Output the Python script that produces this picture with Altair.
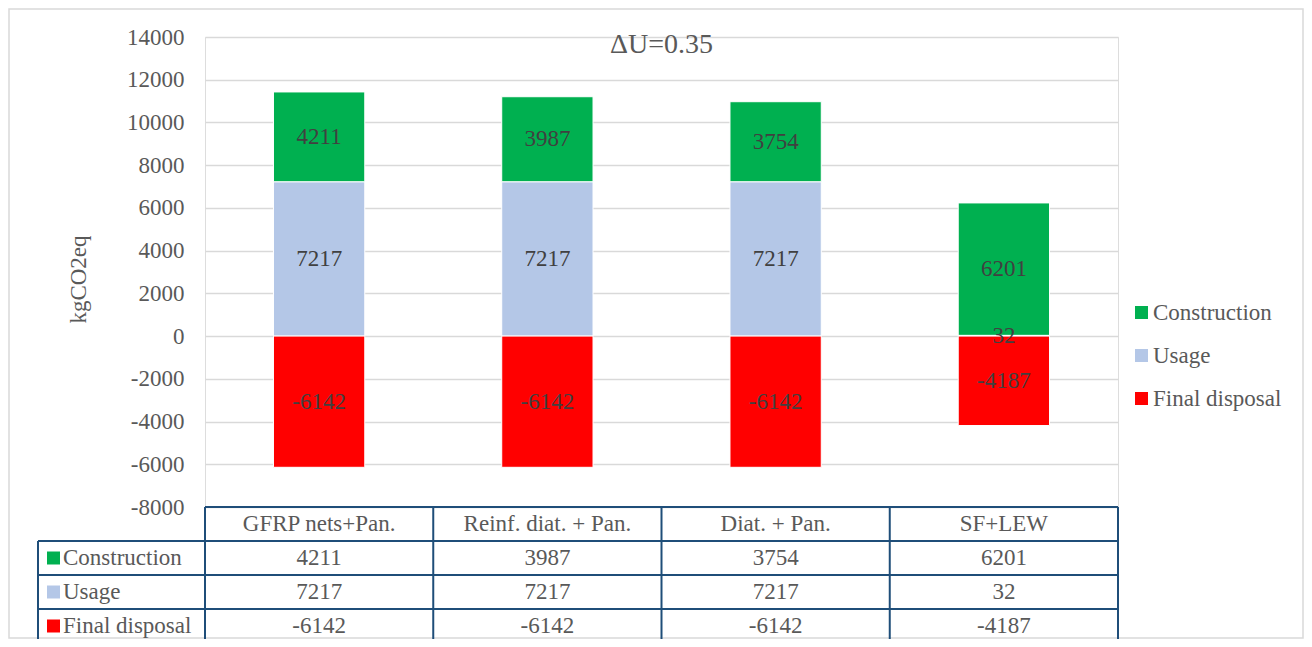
import altair as alt
import pandas as pd

# ---------------- data ----------------
categories = ["GFRP nets+Pan.", "Reinf. diat. + Pan.", "Diat. + Pan.", "SF+LEW"]
series = ["Construction", "Usage", "Final disposal"]
construction = [4211, 3987, 3754, 6201]
usage = [7217, 7217, 7217, 32]
final_disposal = [-6142, -6142, -6142, -4187]
colors = ["#00B050", "#B4C7E7", "#FF0000"]
y_ticks = [-8000, -6000, -4000, -2000, 0, 2000, 4000, 6000, 8000, 10000, 12000, 14000]
chart_title = "ΔU=0.35"
y_title = "kgCO2eq"

# ---------------- style / layout ----------------
FONT = "Liberation Serif"
TEXT = "#595959"
GRID = "#D9D9D9"
LINE = "#1F4E79"
FS = 23

PLOT_W, PLOT_H = 913, 470
PAD = {"left": 197, "top": 29, "right": 186, "bottom": 132}
COL_PX = PLOT_W / len(categories)
LABEL_COL = 167 / COL_PX          # width of the table's label column, in column units
ROW_PX = 34.0
ROW_UNITS = PLOT_H / ROW_PX

values_by_series = {"Construction": construction, "Usage": usage, "Final disposal": final_disposal}
stack_order = {"Usage": 0, "Construction": 1, "Final disposal": 2}
n = len(categories)

rows = []
for i, c in enumerate(categories):
    for s in series:
        v = values_by_series[s][i]
        rows.append(dict(cat=c, idx=i, series=s, value=v, label=str(v), ord=stack_order[s]))
bars_df = pd.DataFrame(rows)

x_scale = alt.Scale(domain=[0, n], nice=False, zero=False)
y_scale = alt.Scale(domain=[y_ticks[0], y_ticks[-1]], nice=False, zero=False)

y_axis = alt.Axis(
    values=y_ticks, title=y_title, grid=True, gridColor=GRID, gridWidth=1.5,
    domain=False, ticks=False, tickSize=0, labelPadding=21,
    labelFont=FONT, labelFontSize=FS, labelColor=TEXT, labelExpr="'' + datum.value",
    titleFont=FONT, titleFontSize=FS, titleColor=TEXT, titleFontWeight="normal",
    titlePadding=36, titleY=242,
)

base_bars = alt.Chart(bars_df).transform_stack(
    stack="value", groupby=["cat"], as_=["v0", "v1"],
    sort=[alt.SortField("ord", order="ascending")],
).transform_calculate(
    x0="datum.idx + 0.3", x1="datum.idx + 0.7",
    xm="datum.idx + 0.5", vmid="(datum.v0 + datum.v1) / 2",
)

bars = base_bars.mark_rect(stroke="white", strokeWidth=1).encode(
    x=alt.X("x0:Q", scale=x_scale, axis=None),
    x2="x1:Q",
    y=alt.Y("v0:Q", scale=y_scale, axis=y_axis),
    y2="v1:Q",
    color=alt.Color(
        "series:N",
        scale=alt.Scale(domain=series, range=colors),
        legend=alt.Legend(
            orient="none", legendX=925, legendY=264, title=None,
            symbolType="square", symbolSize=169, symbolStrokeWidth=0,
            labelFont=FONT, labelFontSize=FS, labelColor=TEXT, labelOffset=0,
            rowPadding=19, padding=0,
        ),
    ),
)

bar_labels = base_bars.mark_text(font=FONT, fontSize=FS, color="#404040", baseline="middle").encode(
    x=alt.X("xm:Q", scale=x_scale, axis=None),
    y=alt.Y("vmid:Q", scale=y_scale, axis=y_axis),
    text="label:N",
)

title_df = pd.DataFrame([dict(t=chart_title, xt=n / 2, yt=y_ticks[-1])])
title_mark = alt.Chart(title_df).mark_text(
    font=FONT, fontSize=28, color=TEXT, baseline="alphabetic", dy=16
).encode(
    x=alt.X("xt:Q", scale=x_scale, axis=None),
    y=alt.Y("yt:Q", scale=y_scale, axis=y_axis),
    text="t:N",
)

bar_layer = alt.layer(bars, bar_labels, title_mark)

# ---------------- data table ----------------
ty_scale = alt.Scale(domain=[-ROW_UNITS, 0], reverse=True, nice=False, zero=False)

lines = [dict(xa=0, xb=n, ra=0, rb=0)]
for r in range(1, len(series) + 2):
    lines.append(dict(xa=-LABEL_COL, xb=n, ra=r, rb=r))
lines.append(dict(xa=-LABEL_COL, xb=-LABEL_COL, ra=1, rb=len(series) + 1))
for j in range(n + 1):
    lines.append(dict(xa=j, xb=j, ra=0, rb=len(series) + 1))
lines_df = pd.DataFrame(lines)

cells = []
for i, c in enumerate(categories):
    cells.append(dict(text=c, xm=i + 0.5, rm=0.5))
    for k, s in enumerate(series):
        cells.append(dict(text=str(values_by_series[s][i]), xm=i + 0.5, rm=k + 1.5))
cells_df = pd.DataFrame(cells)

row_labels_df = pd.DataFrame(
    [dict(series=s, xl=-LABEL_COL, rm=k + 1.5) for k, s in enumerate(series)]
)

grid_rules = alt.Chart(lines_df).mark_rule(color=LINE, strokeWidth=2).encode(
    x=alt.X("xa:Q", scale=x_scale, axis=None),
    x2="xb:Q",
    y=alt.Y("ra:Q", scale=ty_scale, axis=None),
    y2="rb:Q",
)

cell_text = alt.Chart(cells_df).mark_text(font=FONT, fontSize=FS, color=TEXT, baseline="middle").encode(
    x=alt.X("xm:Q", scale=x_scale, axis=None),
    y=alt.Y("rm:Q", scale=ty_scale, axis=None),
    text="text:N",
)

row_text = alt.Chart(row_labels_df).mark_text(
    font=FONT, fontSize=FS, color=TEXT, baseline="middle", align="left", dx=25
).encode(
    x=alt.X("xl:Q", scale=x_scale, axis=None),
    y=alt.Y("rm:Q", scale=ty_scale, axis=None),
    text="series:N",
)

row_swatch = alt.Chart(row_labels_df).mark_square(size=169, opacity=1, filled=True, xOffset=15.5).encode(
    x=alt.X("xl:Q", scale=x_scale, axis=None),
    y=alt.Y("rm:Q", scale=ty_scale, axis=None),
    color=alt.Color("series:N", scale=alt.Scale(domain=series, range=colors), legend=None),
)

table_layer = alt.layer(grid_rules, cell_text, row_text, row_swatch)

# outer frame (decoration)
frame = alt.Chart(pd.DataFrame({"f": [0]})).mark_rect(
    fillOpacity=0, stroke=GRID, strokeWidth=1.5
).encode(
    x=alt.value(-PAD["left"] + 1),
    x2=alt.value(PLOT_W + PAD["right"] - 1),
    y=alt.value(-PAD["top"] + 1),
    y2=alt.value(PLOT_H + PAD["bottom"] - 1),
)

chart = alt.layer(frame, bar_layer, table_layer).resolve_scale(
    y="independent", color="independent"
).properties(
    width=PLOT_W,
    height=PLOT_H,
    padding=PAD,
    autosize=alt.AutoSizeParams(type="none"),
).configure_view(stroke=None).configure(font=FONT)

chart.save("out.html", embed_options={"renderer": "svg", "actions": False})
